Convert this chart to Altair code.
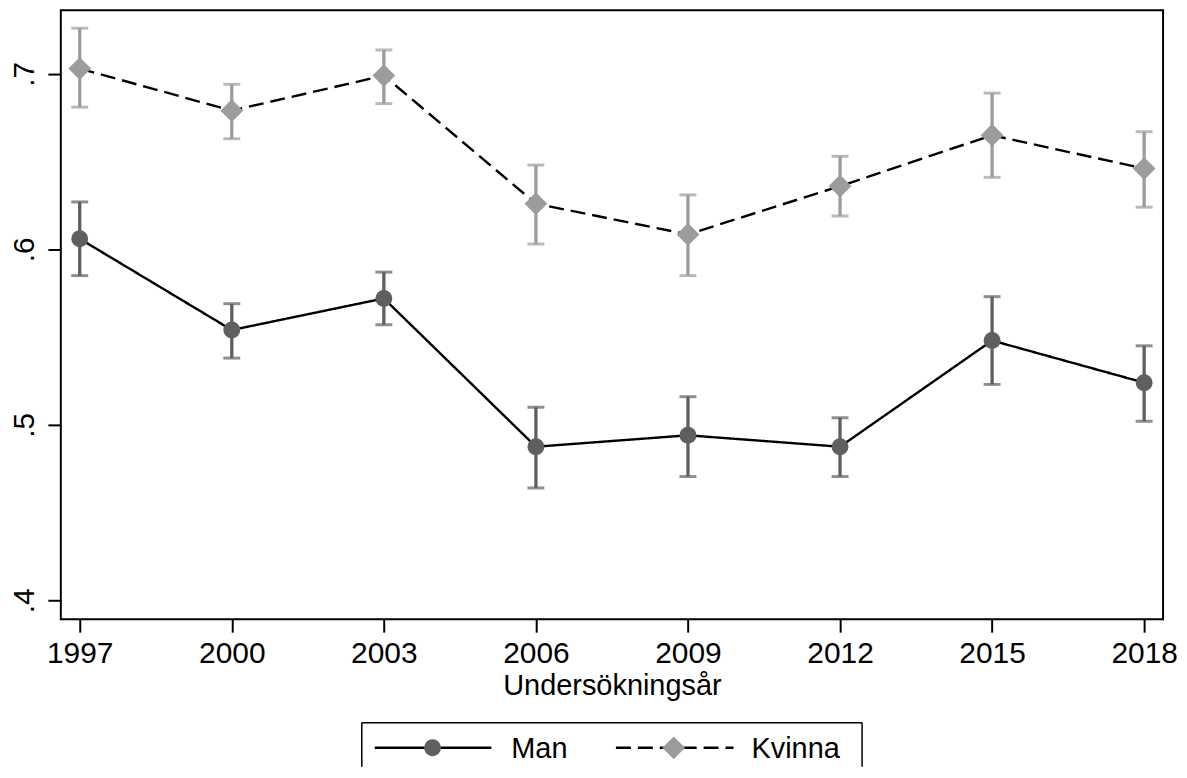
import altair as alt
import pandas as pd

# ---- data ----
years = [1997, 2000, 2003, 2006, 2009, 2012, 2015, 2018]
series = ["Man", "Kvinna"]
man_mean = [0.606, 0.554, 0.572, 0.4875, 0.494, 0.4875, 0.548, 0.524]
man_lo = [0.585, 0.538, 0.557, 0.464, 0.4705, 0.4705, 0.523, 0.502]
man_hi = [0.627, 0.569, 0.587, 0.510, 0.516, 0.504, 0.573, 0.545]
kv_mean = [0.703, 0.679, 0.699, 0.626, 0.6085, 0.636, 0.665, 0.646]
kv_lo = [0.681, 0.663, 0.683, 0.603, 0.585, 0.619, 0.641, 0.624]
kv_hi = [0.726, 0.694, 0.7136, 0.648, 0.631, 0.653, 0.689, 0.667]
y_ticks = [0.4, 0.5, 0.6, 0.7]

rows = []
for s, m, lo, hi in [("Man", man_mean, man_lo, man_hi), ("Kvinna", kv_mean, kv_lo, kv_hi)]:
    for yr, a, b, c in zip(years, m, lo, hi):
        rows.append({"year": yr, "series": s, "mean": a, "lo": b, "hi": c})
df = pd.DataFrame(rows)

FONT = "Liberation Sans"
W, H = 1106, 611
marker_colors = ["#5f5f5f", "#9c9c9c"]
dashes = [[1, 0], [15, 7]]

color = alt.Color("series:N", scale=alt.Scale(domain=series, range=marker_colors), legend=None)
dash = alt.StrokeDash("series:N", scale=alt.Scale(domain=series, range=dashes), legend=None)

x_enc = alt.X(
    "year:Q",
    scale=alt.Scale(domain=[1996.627, 2018.373], nice=False, zero=False),
    axis=alt.Axis(
        values=years, format="d", title="Undersökningsår", grid=False, domain=False,
        tickSize=13, tickWidth=2, tickColor="black", labelFontSize=30, labelColor="black",
        labelFont=FONT, labelPadding=6, titleFont=FONT, titleFontSize=29,
        titleFontWeight="normal", titleColor="black", titlePadding=4, labelFlush=False,
    ),
)
y_axis = alt.Axis(
    values=y_ticks, labelExpr="replace(format(datum.value, '.1f'), '0.', '.')",
    title=None, grid=False, domain=False, tickSize=13, tickWidth=2, tickColor="black",
    labelFontSize=30, labelColor="black", labelFont=FONT, labelAngle=270,
    labelAlign="center", labelBaseline="alphabetic", labelPadding=14,
)
y_scale = alt.Scale(domain=[0.3892, 0.7362], nice=False, zero=False)

base = alt.Chart(df)

bars = base.mark_rule(strokeWidth=3.3).encode(
    x=x_enc, y=alt.Y("lo:Q", scale=y_scale, axis=y_axis), y2="hi:Q", color=color
)
cap_lo = base.mark_tick(orient="horizontal", size=17, thickness=3).encode(
    x="year:Q", y="lo:Q", color=color
)
cap_hi = base.mark_tick(orient="horizontal", size=17, thickness=3).encode(
    x="year:Q", y="hi:Q", color=color
)
lines = base.mark_line(color="black", strokeWidth=2.4).encode(
    x="year:Q", y="mean:Q", strokeDash=dash, detail="series:N"
)
pts_man = base.transform_filter(alt.datum.series == "Man").mark_point(
    filled=True, opacity=1, shape="circle", size=289
).encode(x="year:Q", y="mean:Q", color=color)
pts_kv = base.transform_filter(alt.datum.series == "Kvinna").mark_point(
    filled=True, opacity=1, shape="diamond", size=520
).encode(x="year:Q", y="mean:Q", color=color)

main = alt.layer(bars, cap_lo, cap_hi, lines, pts_man, pts_kv).properties(
    width=W, height=H, view=alt.ViewBackground(stroke="black", strokeWidth=2)
)

# ---- hand-built legend panel (layout positions in pixels of the panel) ----
LH = 44
leg_df = pd.DataFrame({
    "series": series,
    "x1": [315, 557], "x2": [432, 675], "xm": [373, 615], "xt": [452, 693],
    "yc": [25, 25],
})
box_df = pd.DataFrame({
    "x": [302, 302, 804], "x2": [804, 302, 804], "y": [0, 0, 0], "y2": [0, LH, LH],
})
lx = alt.Scale(domain=[0, W], range=[0, W])
ly = alt.Scale(domain=[0, LH], range=[0, LH])

box = alt.Chart(box_df).mark_rule(color="black", strokeWidth=1.5).encode(
    x=alt.X("x:Q", scale=lx, axis=None), x2="x2:Q",
    y=alt.Y("y:Q", scale=ly, axis=None), y2="y2:Q",
)
leg_lines = alt.Chart(leg_df).mark_rule(color="black", strokeWidth=2.4).encode(
    x=alt.X("x1:Q", scale=lx, axis=None), x2="x2:Q",
    y=alt.Y("yc:Q", scale=ly, axis=None),
    strokeDash=alt.StrokeDash("series:N", scale=alt.Scale(domain=series, range=[[1, 0], [12, 6]]), legend=None),
)
leg_man = alt.Chart(leg_df).transform_filter(alt.datum.series == "Man").mark_point(
    filled=True, opacity=1, shape="circle", size=289
).encode(x=alt.X("xm:Q", scale=lx, axis=None), y=alt.Y("yc:Q", scale=ly, axis=None), color=color)
leg_kv = alt.Chart(leg_df).transform_filter(alt.datum.series == "Kvinna").mark_point(
    filled=True, opacity=1, shape="diamond", size=520
).encode(x=alt.X("xm:Q", scale=lx, axis=None), y=alt.Y("yc:Q", scale=ly, axis=None), color=color)
leg_text = alt.Chart(leg_df).mark_text(
    align="left", baseline="middle", fontSize=29, font=FONT, color="black", dy=1
).encode(x=alt.X("xt:Q", scale=lx, axis=None), y=alt.Y("yc:Q", scale=ly, axis=None), text="series:N")

legend = alt.layer(box, leg_lines, leg_man, leg_kv, leg_text).properties(
    width=W, height=LH, view=alt.ViewBackground(strokeOpacity=0)
)

chart = alt.vconcat(main, legend, spacing=20).properties(
    padding={"left": 0, "top": 0, "right": 0, "bottom": 0}
).configure(background="white").resolve_scale(color="shared")

chart.save("out.html", embed_options={"renderer": "svg", "actions": False})
